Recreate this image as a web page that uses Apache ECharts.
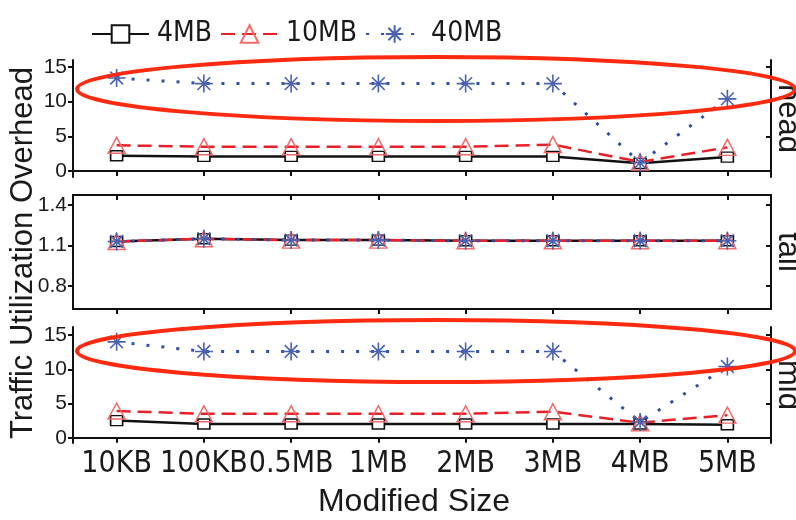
<!DOCTYPE html>
<html>
<head>
<meta charset="utf-8">
<script src="https://cdn.jsdelivr.net/npm/echarts@6/dist/echarts.min.js"></script>
<style>html,body{margin:0;padding:0;background:#fff;}#c{width:796px;height:520px;}</style>
</head>
<body>
<div id="c"></div>
<script>
const categories = ['10KB', '100KB', '0.5MB', '1MB', '2MB', '3MB', '4MB', '5MB'];
const seriesNames = ['4MB', '10MB', '40MB'];
const panels = ['head', 'tail', 'mid'];

const head4MB  = [2.2, 2.1, 2.1, 2.1, 2.1, 2.1, 1.1, 2.0];
const head10MB = [3.7, 3.5, 3.5, 3.5, 3.5, 3.8, 1.3, 3.4];
const head40MB = [13.4, 12.6, 12.6, 12.6, 12.6, 12.6, 1.2, 10.4];

const tail4MB  = [1.13, 1.15, 1.14, 1.14, 1.135, 1.135, 1.135, 1.135];
const tail10MB = [1.13, 1.15, 1.14, 1.14, 1.135, 1.135, 1.135, 1.135];
const tail40MB = [1.13, 1.15, 1.14, 1.14, 1.135, 1.135, 1.135, 1.135];

const mid4MB  = [2.5, 2.0, 2.0, 2.0, 2.0, 2.0, 2.0, 1.9];
const mid10MB = [3.9, 3.5, 3.5, 3.5, 3.5, 3.8, 2.2, 3.3];
const mid40MB = [14.0, 12.6, 12.6, 12.6, 12.6, 12.6, 2.3, 10.4];

const yTicksHead = [0, 5, 10, 15];
const yTicksTail = [0.8, 1.1, 1.4];
const yTicksMid = [0, 5, 10, 15];

const panelData = [
  [head4MB, head10MB, head40MB],
  [tail4MB, tail10MB, tail40MB],
  [mid4MB, mid10MB, mid40MB]
];
const yTicks = [yTicksHead, yTicksTail, yTicksMid];
const yRanges = [[-0.87, 16.0], [0.63, 1.474], [-0.77, 16.17]];
const grids = [
  {left: 73, top: 60, width: 698, height: 117},
  {left: 73, top: 195, width: 698, height: 114},
  {left: 73, top: 327, width: 698, height: 116}
];

const NARROW = "'Liberation Sans Narrow', 'Arial Narrow', 'DejaVu Sans Condensed', sans-serif";
const SANS = "'Liberation Sans', Arial, sans-serif";
const STAR = 'path://M0,-10L0,10M-10,0L10,0M-7.07,-7.07L7.07,7.07M-7.07,7.07L7.07,-7.07';

const styles = [
  {symbol: 'rect', symbolSize: [12, 10], line: {color: '#111', width: 2.5, type: 'solid'},
   item: {color: '#fff', borderColor: '#111', borderWidth: 1.5}},
  {symbol: 'triangle', symbolSize: [17, 16], line: {color: '#e8202a', width: 2.5, type: [14, 7]},
   item: {color: 'rgba(255,255,255,0)', borderColor: '#f26a6a', borderWidth: 1.5}},
  {symbol: STAR, symbolSize: 18, line: {color: '#2f4fa8', width: 3, type: [3, 12]},
   item: {color: 'rgba(255,255,255,0)', borderColor: '#4a62b0', borderWidth: 1.6}}
];

const xAxes = [], yAxes = [], series = [];
const axisLine = {show: true, lineStyle: {color: '#111', width: 2}};
const tickStyle = {color: '#111', width: 2};
for (let i = 0; i < 3; i++) {
  xAxes.push({
    type: 'category', gridIndex: i, data: categories, position: 'bottom', boundaryGap: true,
    axisLine: axisLine,
    axisTick: {show: true, alignWithLabel: true, length: 5, inside: false, lineStyle: tickStyle},
    axisLabel: {show: i === 2, fontFamily: NARROW, fontSize: 30, color: '#1a1a1a', margin: 6, interval: 0},
    splitLine: {show: false}
  });
  xAxes.push({
    type: 'category', gridIndex: i, data: categories, position: 'top', boundaryGap: true,
    axisLine: axisLine,
    axisTick: {show: true, alignWithLabel: true, length: 5, inside: true, lineStyle: tickStyle},
    axisLabel: {show: false}, splitLine: {show: false}
  });
  yAxes.push({
    type: 'value', gridIndex: i, position: 'left', min: yRanges[i][0], max: yRanges[i][1],
    axisLine: axisLine,
    axisTick: {show: true, length: 5, inside: false, lineStyle: tickStyle, customValues: yTicks[i]},
    axisLabel: {show: true, fontFamily: SANS, fontSize: 21, color: '#1a1a1a', margin: 6, customValues: yTicks[i]},
    splitLine: {show: false}
  });
  yAxes.push({
    type: 'value', gridIndex: i, position: 'right', min: yRanges[i][0], max: yRanges[i][1],
    axisLine: axisLine,
    axisTick: {show: true, length: 5, inside: true, lineStyle: tickStyle, customValues: yTicks[i]},
    axisLabel: {show: false, customValues: yTicks[i]},
    splitLine: {show: false}
  });
  for (let s = 0; s < 3; s++) {
    series.push({
      name: seriesNames[s], type: 'line', xAxisIndex: 2 * i, yAxisIndex: 2 * i,
      data: panelData[i][s], symbol: styles[s].symbol, symbolSize: styles[s].symbolSize,
      showAllSymbol: true, lineStyle: styles[s].line, itemStyle: styles[s].item,
      z: 2 + s, animation: false
    });
  }
}

const graphics = [
  {type: 'text', rotation: Math.PI / 2, x: 23, y: 253,
   style: {text: 'Traffic Utilization Overhead', font: '31px ' + SANS, fill: '#1a1a1a', textAlign: 'center', textVerticalAlign: 'middle'}},
  {type: 'text', x: 414, y: 502,
   style: {text: 'Modified Size', font: '32px ' + SANS, fill: '#1a1a1a', textAlign: 'center', textVerticalAlign: 'middle'}}
];
for (let i = 0; i < 3; i++) {
  graphics.push({type: 'text', rotation: -Math.PI / 2, x: 788, y: grids[i].top + grids[i].height / 2,
    style: {text: panels[i], font: '31px ' + SANS, fill: '#1a1a1a', textAlign: 'center', textVerticalAlign: 'middle'}});
}
graphics.push({type: 'ellipse', shape: {cx: 436, cy: 89, rx: 359, ry: 32}, z: 100,
  style: {fill: 'none', stroke: '#ff2a10', lineWidth: 4}});
graphics.push({type: 'ellipse', shape: {cx: 436, cy: 351, rx: 359, ry: 31}, z: 100,
  style: {fill: 'none', stroke: '#ff2a10', lineWidth: 4}});

const chart = echarts.init(document.getElementById('c'), null, {renderer: 'canvas'});
chart.setOption({
  animation: false,
  backgroundColor: '#fff',
  legend: {
    data: seriesNames, left: 86, top: 15, itemWidth: 57, itemHeight: 22, itemGap: 8,
    textStyle: {fontFamily: NARROW, fontSize: 28, color: '#1a1a1a', padding: [0, 0, 0, 3]}
  },
  grid: grids,
  xAxis: xAxes,
  yAxis: yAxes,
  series: series,
  graphic: graphics
});
</script>
</body>
</html>
